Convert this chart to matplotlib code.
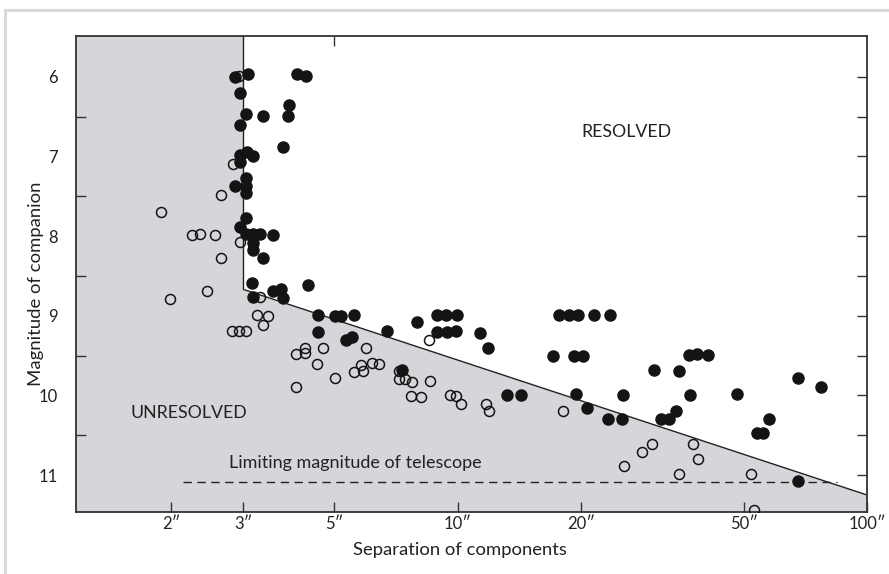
import numpy as np
from matplotlib import pyplot as plt
from matplotlib.lines import Line2D

# separation (arcsec) and companion magnitude, resolved pairs
filled_sep = [2.86, 3.07, 4.05, 4.26, 2.94, 3.05, 3.34, 3.87, 3.85, 2.94, 3.74, 2.95, 3.06, 3.16,
              2.95, 3.05, 3.05, 3.05, 2.86, 3.05, 2.94, 3.04, 3.17, 3.30, 3.55, 3.17, 3.17, 3.35,
              3.15, 3.54, 3.71, 4.32, 3.17, 3.74, 4.57, 5.03, 5.20, 5.59, 4.55, 5.34, 5.53, 6.73,
              7.97, 8.93, 9.36, 9.96, 8.93, 9.40, 9.93, 11.32, 11.85, 7.32, 13.19, 14.27, 17.70,
              18.72, 19.66, 21.55, 23.57, 17.14, 19.29, 20.29, 19.45, 20.72, 23.35, 25.26, 25.41,
              30.24, 34.77, 36.81, 38.50, 40.88, 36.91, 31.40, 32.89, 34.06, 48.16, 67.76, 77.0,
              53.73, 55.6, 57.7, 67.8]
filled_mag = [6.00, 5.96, 5.97, 5.99, 6.21, 6.47, 6.49, 6.36, 6.49, 6.60, 6.88, 6.98, 6.95, 6.99,
              7.07, 7.27, 7.37, 7.46, 7.37, 7.77, 7.88, 7.97, 7.97, 7.97, 7.99, 8.09, 8.18, 8.28,
              8.59, 8.69, 8.66, 8.62, 8.77, 8.78, 8.99, 9.00, 9.00, 8.99, 9.20, 9.30, 9.27, 9.19,
              9.08, 8.99, 8.99, 8.99, 9.20, 9.20, 9.19, 9.22, 9.40, 9.68, 10.00, 10.00, 8.99,
              8.99, 8.99, 8.99, 8.99, 9.50, 9.50, 9.50, 9.98, 10.16, 10.29, 10.29, 10.00,
              9.68, 9.69, 9.49, 9.48, 9.49, 10.00, 10.30, 10.30, 10.19, 9.98, 9.78, 9.89,
              10.47, 10.47, 10.29, 11.08]

# unresolved pairs
open_sep = [2.93, 2.83, 2.65, 1.89, 2.24, 2.35, 2.56, 2.94, 2.65, 2.44, 1.99, 3.30, 3.24, 3.45,
            3.35, 2.82, 2.92, 3.05, 8.53, 4.02, 4.25, 4.25, 4.70, 4.54, 5.99, 5.81, 5.88, 5.58,
            6.18, 6.42, 5.03, 4.02, 7.18, 7.18, 7.43, 7.73, 8.58, 7.70, 8.16, 9.60, 9.90, 10.21,
            11.73, 11.90, 18.07, 25.46, 28.14, 29.82, 34.77, 37.64, 38.71, 52.0, 53.0]
open_mag = [5.99, 7.10, 7.49, 7.70, 7.99, 7.97, 7.99, 8.07, 8.28, 8.69, 8.79, 8.76, 8.99, 9.00,
            9.11, 9.19, 9.19, 9.19, 9.31, 9.48, 9.40, 9.47, 9.41, 9.60, 9.40, 9.62, 9.69, 9.70,
            9.59, 9.61, 9.78, 9.89, 9.69, 9.80, 9.80, 9.83, 9.82, 10.01, 10.02, 10.00, 10.01, 10.11,
            10.11, 10.20, 10.20, 10.88, 10.71, 10.61, 10.99, 10.61, 10.80, 10.99, 11.44]

x_ticks = [2, 3, 5, 10, 20, 50, 100]
x_labels = ['2\u2033', '3\u2033', '5\u2033', '10\u2033', '20\u2033', '50\u2033', '100\u2033']
y_ticks = [6, 7, 8, 9, 10, 11]

# resolution limit line and telescope limit
limit_sep = [3, 100]
limit_mag = [8.67, 11.25]
tele_sep = [2.13, 84.5]
tele_mag = 11.09

plt.rcParams['font.family'] = ['Lato', 'DejaVu Sans']
fig = plt.figure(figsize=(8.89, 5.74), dpi=100)
ax = fig.add_axes([0.0852, 0.1085, 0.8901, 0.8293])

xlo, xhi = 1.168, 100
ylo, yhi = 11.46, 5.485
gray = '#d5d6d9'
ink = '#222222'

ax.fill([xlo, limit_sep[0], limit_sep[0], limit_sep[1], limit_sep[1], xlo],
        [yhi - 1, yhi - 1, limit_mag[0], limit_mag[1], ylo + 1, ylo + 1],
        color=gray, lw=0, zorder=0)
ax.plot([limit_sep[0], limit_sep[0], limit_sep[1]], [yhi - 1, limit_mag[0], limit_mag[1]],
        color=ink, lw=1, zorder=1)
ax.plot(tele_sep, [tele_mag, tele_mag], color=ink, lw=1, ls=(0, (6, 4)), zorder=1)

ax.plot(filled_sep, filled_mag, 'o', color='#141414', ms=8, mec='#141414', zorder=3)
ax.plot(open_sep, open_mag, 'o', mfc='none', mec='#141414', ms=7.2, mew=1.1, zorder=4)

ax.set_xscale('log')
ax.set_xlim(xlo, xhi)
ax.set_ylim(ylo, yhi)

ax.set_xticks(x_ticks)
ax.set_xticklabels(x_labels, fontsize=12)
ax.xaxis.set_minor_locator(plt.NullLocator())
ax.tick_params(axis='x', which='major', direction='in', length=7, width=1, pad=3,
               color='#333333', labelcolor=ink)

ax.set_yticks(y_ticks)
ax.set_yticklabels([str(v) for v in y_ticks], fontsize=12)
ax.set_yticks(np.arange(6.5, 11.0, 1.0), minor=True)
ax.tick_params(axis='y', which='major', length=0, pad=13, labelcolor=ink)
ax.tick_params(axis='y', which='minor', direction='in', length=7, width=1, color='#333333')

# right side ticks every half magnitude
ry = ax.secondary_yaxis('right')
ry.set_yticks(np.arange(6.0, 11.5, 0.5))
ry.tick_params(direction='in', length=7, width=1, color='#333333', labelright=False)
ry.spines['right'].set_visible(False)

# lone tick on the top edge
tx = ax.secondary_xaxis('top')
tx.set_xticks([5])
tx.xaxis.set_minor_locator(plt.NullLocator())
tx.tick_params(direction='in', length=7, width=1, color='#333333', labeltop=False)
tx.spines['top'].set_visible(False)

for s in ax.spines.values():
    s.set_color('#333333')
    s.set_linewidth(1.3)

ax.text(25.9, 6.69, 'RESOLVED', fontsize=12.8, ha='center', va='center', color=ink)
ax.text(1.59, 10.22, 'UNRESOLVED', fontsize=12.8, ha='left', va='center', color=ink)
ax.text(2.76, 10.85, 'Limiting magnitude of telescope', fontsize=13, ha='left', va='center',
        color=ink)

fig.text(0.517, 0.042, 'Separation of components', fontsize=13.3, ha='center', va='center',
         color=ink)
fig.text(0.040, 0.505, 'Magnitude of companion', fontsize=13.3, ha='center', va='center',
         rotation=90, color=ink)

# light frame around the figure
fig.add_artist(Line2D([5 / 889, 1], [1 - 10 / 574, 1 - 10 / 574], transform=fig.transFigure,
                      color='#d9d9d9', lw=2.2))
fig.add_artist(Line2D([5 / 889, 5 / 889], [0, 1 - 10 / 574], transform=fig.transFigure,
                      color='#d9d9d9', lw=2.2))

fig.savefig('out.png', dpi=100)
